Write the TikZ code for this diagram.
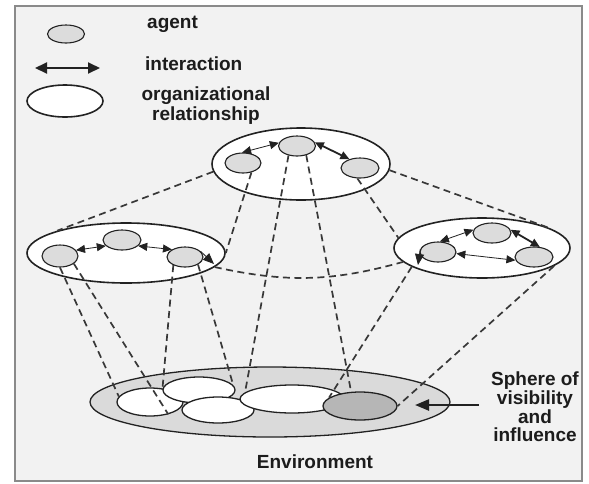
\documentclass[tikz,border=0pt]{standalone}
\usepackage{fontspec}
\setmainfont{Liberation Sans}
\usetikzlibrary{shapes.geometric,arrows.meta}
\definecolor{bgcol}{HTML}{F2F2F2}
\definecolor{framecol}{HTML}{8A8A8A}
\definecolor{linecol}{HTML}{222222}
\definecolor{dashcol}{HTML}{383838}
\definecolor{agentfill}{HTML}{DCDCDC}
\definecolor{envfill}{HTML}{DADADA}
\definecolor{efill}{HTML}{B6B6B6}
\definecolor{txtcol}{HTML}{1C1C1C}
\begin{document}
\begin{tikzpicture}[x=1pt,y=-1pt,
  agent/.style={ellipse, draw=linecol, line width=1.1pt, fill=agentfill, inner sep=0pt},
  org/.style={ellipse, draw=linecol, line width=1.6pt, fill=white, inner sep=0pt},
  envpart/.style={ellipse, draw=linecol, line width=1.3pt, fill=white, inner sep=0pt},
  lbl/.style={font=\bfseries\fontsize{19}{20}\selectfont, text=txtcol, inner sep=0pt},
  dline/.style={draw=dashcol, line width=1.7pt, dash pattern=on 7pt off 4.5pt},
  ia/.style={{Triangle[length=9pt,width=8pt]}-{Triangle[length=9pt,width=8pt]}, line width=0.8pt, draw=linecol},
  iat/.style={ia, line width=1.8pt},
  onehead/.style={-{Triangle[length=11pt,width=9pt]}, line width=0.8pt, draw=linecol},
  legarrow/.style={{Triangle[length=12pt,width=11pt]}-{Triangle[length=12pt,width=11pt]}, line width=2pt, draw=linecol},
  sparrow/.style={-{Triangle[length=14pt,width=11pt]}, line width=2.4pt, draw=linecol}
]
\useasboundingbox (0,0) rectangle (589,483);
\draw[framecol, line width=1.5pt, fill=bgcol] (15,6) rectangle (582,481);

% legend
\node[agent, minimum width=37pt, minimum height=18pt] (lagent) at (66,34) {};
\node[org, minimum width=76pt, minimum height=32pt] (lorg) at (65,101) {};
\coordinate (la1) at (35,68);
\coordinate (la2) at (100,68);
\draw[legarrow] (la1) -- (la2);
\node[lbl, anchor=base west] (tagent) at (147,28) {agent};
\node[lbl, anchor=base west] (tinter) at (145,70) {interaction};
\node[lbl, anchor=base, align=center] (torg) at (206,120.5) {organizational\\relationship};

% top organisation
\node[org, minimum width=178pt, minimum height=72pt] (T) at (301,164) {};
\node[agent, minimum width=36pt, minimum height=20pt] (TL) at (243,163) {};
\node[agent, minimum width=37pt, minimum height=20pt] (TM) at (297,146) {};
\node[agent, minimum width=38pt, minimum height=20pt] (TR) at (360,168) {};
\draw[ia] (TL.95) -- (TM.170);
\draw[iat] (TM.12) -- (TR.140);

% left organisation
\node[org, minimum width=198pt, minimum height=60pt] (L) at (126,253) {};
\node[agent, minimum width=36pt, minimum height=22pt] (LL) at (60,256) {};
\node[agent, minimum width=38pt, minimum height=20pt] (LM) at (122,240) {};
\node[agent, minimum width=36pt, minimum height=20pt] (LR) at (185,257) {};
\draw[ia] (LL.20) -- (LM.200);
\draw[ia] (LM.340) -- (LR.150);
\coordinate (lx) at (214,264);
\draw[onehead] (LR.20) -- (lx);

% right organisation
\node[org, minimum width=176pt, minimum height=60pt] (R) at (482,248) {};
\node[agent, minimum width=36pt, minimum height=20pt] (RL) at (438,252) {};
\node[agent, minimum width=38pt, minimum height=20pt] (RT) at (492,233) {};
\node[agent, minimum width=38pt, minimum height=20pt] (RR) at (534,257) {};
\draw[ia] (RL.80) -- (RT.170);
\draw[iat] (RT.10) -- (RR.60);
\draw[ia] (RR.190) -- (RL.355);
\coordinate (rx) at (418,265);
\draw[onehead] (RL.170) -- (rx);

% environment
\node[ellipse, draw=linecol, line width=1.3pt, fill=envfill, inner sep=0pt, minimum width=360pt, minimum height=70pt] (env) at (270,402) {};
\node[envpart, minimum width=66pt, minimum height=28pt] (A) at (150,402) {};
\node[envpart, minimum width=72pt, minimum height=26pt] (B) at (199,390) {};
\node[envpart, minimum width=72pt, minimum height=26pt] (C) at (218,410) {};
\node[envpart, minimum width=104pt, minimum height=28pt] (D) at (292,399) {};
\node[envpart, fill=efill, minimum width=74pt, minimum height=28pt] (E) at (360,406) {};
\node[lbl, anchor=base] (envlbl) at (315,468) {Environment};

% sphere label
\node[lbl, anchor=base, align=center, font=\bfseries\fontsize{19}{17.7}\selectfont] (sph) at (535,441) {Sphere of\\visibility\\and\\influence};
\coordinate (tip) at (415,405);
\draw[sparrow] ([xshift=-12pt]sph.west |- tip) -- (tip);

% dashed connections
\draw[dline] (T.185) -- (L.162);
\draw[dline] (TL.312) -- (L.east);
\draw[dline] (TM.228) -- (D.172);
\draw[dline] (TM.315) -- (E.122);
\draw[dline] (TR.256) -- (R.173);
\draw[dline] (T.356) -- (R.16);
\draw[dline] (L.351) to[bend right=14] (R.190);
\draw[dline] (LL.south) -- (A.170);
\draw[dline] (LL.331) -- (A.326);
\draw[dline] (LR.215) -- (B.west);
\draw[dline] (LR.330) -- (B.8);
\draw[dline] (R.195) -- (E.165);
\draw[dline] (R.346) -- (E.east);
\end{tikzpicture}
\end{document}
